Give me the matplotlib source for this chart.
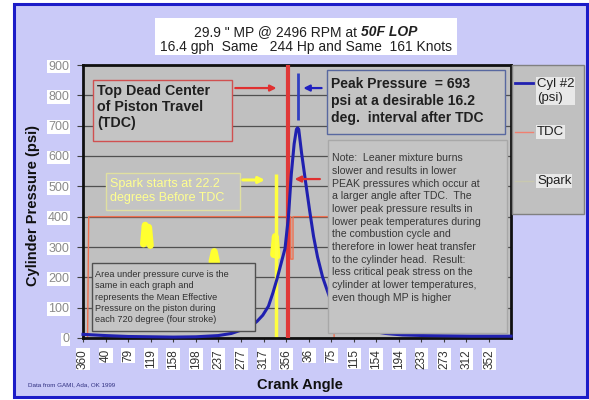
import numpy as np
import matplotlib
matplotlib.use("Agg")
import matplotlib.pyplot as plt
from matplotlib.patches import Rectangle
from matplotlib.lines import Line2D

plt.rcParams['font.family'] = ['Liberation Sans', 'DejaVu Sans']

# Chart data
pressure_angle = [0, 20, 40, 79, 119, 158, 198, 237, 260, 280, 295, 305, 315, 325, 333,
                  340, 347, 354, 360, 365, 370, 374, 376, 378, 383, 390, 397, 404, 411,
                  420, 432, 445, 460, 480, 500, 530, 560, 600, 640, 680, 720, 750]
pressure_psi = [12, 10, 8, 5, 4, 3, 4, 8, 15, 28, 40, 55, 75, 105, 150,
                195, 245, 295, 400, 540, 640, 688, 693, 688, 610, 515, 422, 335, 267,
                200, 135, 90, 60, 38, 25, 15, 10, 8, 7, 6, 6, 6]

tdc_series_angle = [8, 10, 364, 364, 368, 368, 440, 440]
tdc_series_val = [0, 400, 400, 260, 260, 400, 400, 0]

spark_blob_angle = [106, 109, 112, 115, 118, np.nan, 226, 230, 234, np.nan, 334, 337, 340]
spark_blob_val = [310, 372, 318, 365, 305, np.nan, 252, 285, 250, np.nan, 275, 335, 270]

tdc_angle = 360
spark_angle = 337.8
peak_angle = 376.2
peak_psi = 693

x_tick_pos = [0, 40, 79, 119, 158, 198, 237, 277, 317, 356, 396, 435, 475, 514,
              554, 593, 633, 672, 712]
x_tick_labels = ['360', '40', '79', '119', '158', '198', '237', '277', '317', '356',
                 '36', '75', '115', '154', '194', '233', '273', '312', '352']
y_ticks = [0, 100, 200, 300, 400, 500, 600, 700, 800, 900]

W, H = 589, 400
fig = plt.figure(figsize=(W / 100, H / 100), dpi=100)
fig.patch.set_facecolor('white')


def fx(px):
    return px / W


def fy(py):
    return 1 - py / H


# outer lavender panel with blue border
fig.add_artist(Rectangle((fx(14), fy(397)), fx(573), 393 / H, transform=fig.transFigure,
                         facecolor='#cacaf8', edgecolor='#1c1cc8', lw=2.2, zorder=0))

# title box
fig.add_artist(Rectangle((fx(155), fy(55)), fx(302), 37 / H, transform=fig.transFigure,
                         facecolor='white', edgecolor='none', zorder=1))
t1 = fig.text(0, fy(32), '29.9 " MP @ 2496 RPM at ', ha='left', va='center',
              fontsize=10, color='#202020')
t2 = fig.text(0, fy(32), '50F LOP', ha='left', va='center', fontsize=10,
              style='italic', fontweight='bold', color='#202020')
fig.canvas.draw()
r = fig.canvas.get_renderer()
w1 = t1.get_window_extent(r).width
w2 = t2.get_window_extent(r).width
start = 306 - (w1 + w2) / 2
t1.set_x(fx(start))
t2.set_x(fx(start + w1))
fig.text(fx(306), fy(47), '16.4 gph  Same   244 Hp and Same  161 Knots', ha='center',
         va='center', fontsize=10, color='#202020')

ax = fig.add_axes([fx(83), fy(338), 428 / W, 273 / H])
ax.set_facecolor('#c0c0c0')
ax.set_xlim(0, 750)
ax.set_ylim(0, 900)
ax.set_yticks(y_ticks)
ax.yaxis.grid(True, color='#505050', lw=0.9)
ax.set_axisbelow(True)
for side in ['left', 'top', 'right', 'bottom']:
    ax.spines[side].set_linewidth(2)
    ax.spines[side].set_color('#101010')

ax.set_xticks(x_tick_pos)
ax.set_xticklabels(x_tick_labels, rotation=90, fontsize=8.5, color='#303030')
ax.tick_params(axis='x', length=3, pad=5, color='#404040')
ax.tick_params(axis='y', length=4, pad=6, labelsize=9, labelcolor='#8a8a8a', color='#404040')
for lbl in ax.get_xticklabels() + ax.get_yticklabels():
    lbl.set_bbox(dict(facecolor='white', edgecolor='none', pad=0.6))

# series
ax.plot(tdc_series_angle, tdc_series_val, color='#f07050', lw=1, zorder=2)
ax.plot(spark_blob_angle, spark_blob_val, color='#ffff30', lw=5, zorder=2,
        solid_capstyle='round')
ax.vlines(spark_angle, 0, 540, color='#ffff40', lw=2.5, zorder=2)
ax.axvline(tdc_angle, color='#e03838', lw=3, zorder=3)
ax.plot(pressure_angle, pressure_psi, color='#2020b0', lw=2.2, zorder=4, clip_on=False)
ax.vlines(peak_angle, 720, 875, color='#3040c0', lw=2, zorder=4)

# arrows
arr = dict(arrowstyle='-|>', mutation_scale=9, lw=1.6)
ax.annotate('', xy=(tdc_angle - 16, 824), xytext=(262, 824),
            arrowprops=dict(arr, color='#e03030'), zorder=5)
ax.annotate('', xy=(peak_angle + 5, 824), xytext=(423, 824),
            arrowprops=dict(arr, color='#2020c0'), zorder=5)
ax.annotate('', xy=(tdc_angle + 6, 524), xytext=(420, 524),
            arrowprops=dict(arr, color='#e03030'), zorder=5)
ax.annotate('', xy=(spark_angle - 14, 521), xytext=(275, 521),
            arrowprops=dict(arr, color='#ffff40', lw=2.2), zorder=5)


def box(x0, y0, x1, y1, edge, face='#c4c4c4', lw=1):
    ax.add_patch(Rectangle(((x0 - 83) / 428, (338 - y1) / 273), (x1 - x0) / 428,
                           (y1 - y0) / 273, transform=ax.transAxes, facecolor=face,
                           edgecolor=edge, lw=lw, zorder=6, clip_on=False))


def txt(px, py, s, **kw):
    ax.text((px - 83) / 428, (338 - py) / 273, s, transform=ax.transAxes, zorder=7,
            ha='left', va='center', **kw)


box(93, 80, 232, 141, '#d05050')
txt(97, 107, 'Top Dead Center\nof Piston Travel\n(TDC)', fontsize=10.3, fontweight='bold',
    color='#202020', linespacing=1.2)

box(327, 70, 505, 134, '#5868a0')
txt(331, 101, 'Peak Pressure  = 693\npsi at a desirable 16.2\ndeg.  interval after TDC',
    fontsize=10, fontweight='bold', color='#202020', linespacing=1.3)

box(328, 140, 507, 333, '#a8a8a8')
note = ('Note:  Leaner mixture burns\nslower and results in lower\n'
        'PEAK pressures which occur at\na larger angle after TDC.  The\n'
        'lower peak pressure results in\nlower peak temperatures during\n'
        'the combustion cycle and\ntherefore in lower heat transfer\n'
        'to the cylinder head.  Result:\nless critical peak stress on the\n'
        'cylinder at lower temperatures,\neven though MP is higher')
txt(332, 228, note, fontsize=7.6, color='#383838', linespacing=1.33)

box(106, 173, 240, 210, '#e0e0a0')
txt(110, 191, 'Spark starts at 22.2\ndegrees Before TDC', fontsize=9, color='#ffff90',
    linespacing=1.15)

box(92, 263, 255, 331, '#505050')
txt(95, 297, 'Area under pressure curve is the\nsame in each graph and\n'
    'represents the Mean Effective\nPressure on the piston during\n'
    'each 720 degree (four stroke)', fontsize=6.6, color='#303030', linespacing=1.35)

# axis labels
fig.text(fx(33), fy(205), 'Cylinder Pressure (psi)', rotation=90, ha='center', va='center',
         fontsize=10.5, fontweight='bold', color='#101010')
fig.text(fx(300), fy(385), 'Crank Angle', ha='center', va='center', fontsize=10.5,
         fontweight='bold', color='#101010')
fig.text(fx(28), fy(385), 'Data from GAMI, Ada, OK 1999', ha='left', va='center',
         fontsize=4.5, color='#303080')

# legend
fig.add_artist(Rectangle((fx(512), fy(214)), fx(72), 149 / H, transform=fig.transFigure,
                         facecolor='#c0c0c0', edgecolor='#808080', lw=1, zorder=2))
legend_items = [('Cyl #2\n(psi)', '#2020b0', 2, 91), ('TDC', '#f08070', 1, 132),
                ('Spark', '#c8c8b0', 1, 181)]
for label, color, lw, py in legend_items:
    ly = 83 if label.startswith('Cyl') else py
    fig.add_artist(Line2D([fx(515), fx(533)], [fy(ly), fy(ly)], color=color, lw=lw,
                          transform=fig.transFigure, zorder=3))
    fig.text(fx(537), fy(py), label, ha='left', va='center', fontsize=9.5,
             color='#202020', linespacing=1.25, zorder=4,
             bbox=dict(facecolor='#e8e8e8', edgecolor='none', pad=0.5))

fig.savefig('out.png', dpi=100)
